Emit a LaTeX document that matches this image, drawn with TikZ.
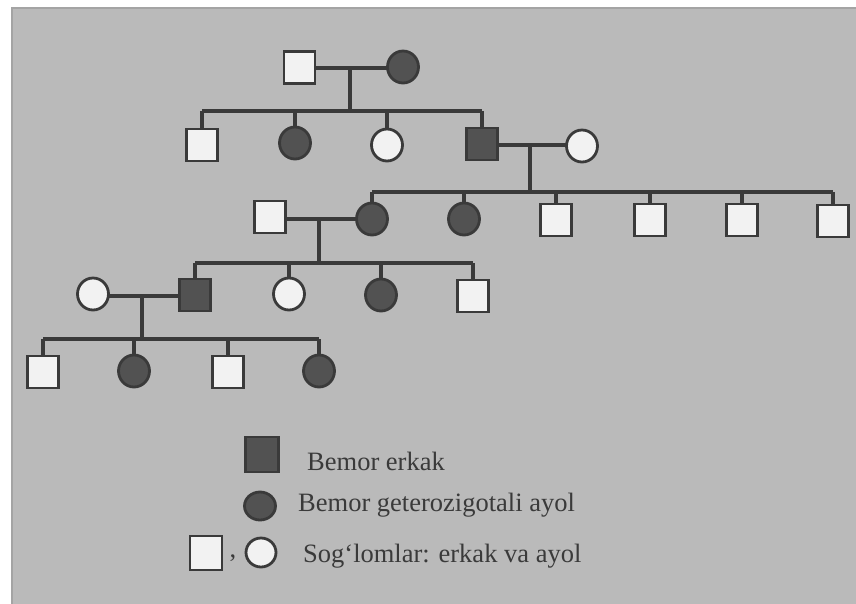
\documentclass[tikz,border=0pt]{standalone}
\usepackage{fontspec}
\setmainfont{Liberation Serif}
\usetikzlibrary{shapes.geometric}
\pgfdeclarelayer{back}
\pgfdeclarelayer{lines}
\pgfsetlayers{back,lines,main}
\definecolor{bg}{HTML}{BABABA}
\definecolor{bgedge}{HTML}{A4A4A4}
\definecolor{ink}{HTML}{3A3A3A}
\definecolor{fillD}{HTML}{525252}
\definecolor{fillL}{HTML}{F2F2F2}
\begin{document}
\begin{tikzpicture}[x=1pt,y=-1pt,
  sq/.style={rectangle, draw=ink, line width=2.8pt, minimum width=31pt, minimum height=32pt, inner sep=0pt},
  ci/.style={ellipse, draw=ink, line width=2.8pt, minimum width=31pt, minimum height=32pt, inner sep=0pt},
  ok/.style={fill=fillL},
  ill/.style={fill=fillD},
  ln/.style={draw=ink, line width=3.2pt},
  lbl/.style={anchor=west, text=ink, font=\fontsize{26.5}{28}\selectfont, inner sep=0pt}]
\useasboundingbox (0,0) rectangle (856,603);
\begin{pgfonlayer}{back}
\fill[white] (0,0) rectangle (856,603);
\fill[bg, draw=bgedge, line width=1.5pt] (12,8) rectangle (860,610);
\end{pgfonlayer}

% Generation 1
\node[sq,ok]  (a1) at (299.5,67.5) {};
\node[ci,ill] (a2) at (403,67) {};
% Generation 2
\node[sq,ok]  (b1) at (202,145) {};
\node[ci,ill] (b2) at (295,143) {};
\node[ci,ok]  (b3) at (387,145) {};
\node[sq,ill] (b4) at (482,144) {};
\node[ci,ok]  (b5) at (582,146) {};
% Generation 3
\node[sq,ok]  (c0) at (270,217) {};
\node[ci,ill] (c1) at (372,219) {};
\node[ci,ill] (c2) at (464,219) {};
\node[sq,ok]  (c3) at (556,220) {};
\node[sq,ok]  (c4) at (650,220) {};
\node[sq,ok]  (c5) at (742,220) {};
\node[sq,ok]  (c6) at (833,221) {};
% Generation 4
\node[ci,ok]  (d0) at (93,294) {};
\node[sq,ill] (d1) at (195,295) {};
\node[ci,ok]  (d2) at (289,294) {};
\node[ci,ill] (d3) at (381,295) {};
\node[sq,ok]  (d4) at (473,296) {};
% Generation 5
\node[sq,ok]  (e1) at (43,372) {};
\node[ci,ill] (e2) at (134,371) {};
\node[sq,ok]  (e3) at (228,372) {};
\node[ci,ill] (e4) at (319,371) {};

% marriage and sibship coordinates
\coordinate (m1) at (350,68);  \coordinate (s1) at (350,111);
\coordinate (m2) at (530,145); \coordinate (s2) at (530,192);
\coordinate (m3) at (319,219); \coordinate (s3) at (319,263);
\coordinate (m4) at (142,296); \coordinate (s4) at (142,339);

\begin{pgfonlayer}{lines}
% family 1
\draw[ln] (a1 |- m1) -- (a2 |- m1);
\draw[ln] (m1) -- (s1);
\draw[ln] (b1 |- s1) -- (b4 |- s1);
\foreach \k in {b1,b2,b3,b4} \draw[ln] (\k) -- (\k |- s1);
% family 2
\draw[ln] (b4 |- m2) -- (b5 |- m2);
\draw[ln] (m2) -- (s2);
\draw[ln] (c1 |- s2) -- (c6 |- s2);
\foreach \k in {c1,c2,c3,c4,c5,c6} \draw[ln] (\k) -- (\k |- s2);
% family 3
\draw[ln] (c0 |- m3) -- (c1 |- m3);
\draw[ln] (m3) -- (s3);
\draw[ln] (d1 |- s3) -- (d4 |- s3);
\foreach \k in {d1,d2,d3,d4} \draw[ln] (\k) -- (\k |- s3);
% family 4
\draw[ln] (d0 |- m4) -- (d1 |- m4);
\draw[ln] (m4) -- (s4);
\draw[ln] (e1 |- s4) -- (e4 |- s4);
\foreach \k in {e1,e2,e3,e4} \draw[ln] (\k) -- (\k |- s4);
\end{pgfonlayer}

% legend
\node[sq,ill, minimum width=33pt, minimum height=35pt] (L1) at (262,454.5) {};
\node[lbl] (t1) at (307,461) {Bemor erkak};
\node[ci,ill, minimum width=31pt, minimum height=28pt] (L2) at (260,506) {};
\node[lbl] (t2) at (298,505) {Bemor geterozigotali ayol};
\node[sq,ok, minimum width=32pt, minimum height=34pt] (L3) at (206,553) {};
\node[text=ink, font=\fontsize{26.5}{28}\selectfont, inner sep=0pt] (cm) at (233,558) {,};
\node[ci,ok, minimum width=30pt, minimum height=29pt] (L4) at (261,552.5) {};
\node[lbl] (t3) at (303,556) {Sog‘lomlar: erkak va ayol};
\end{tikzpicture}
\end{document}
